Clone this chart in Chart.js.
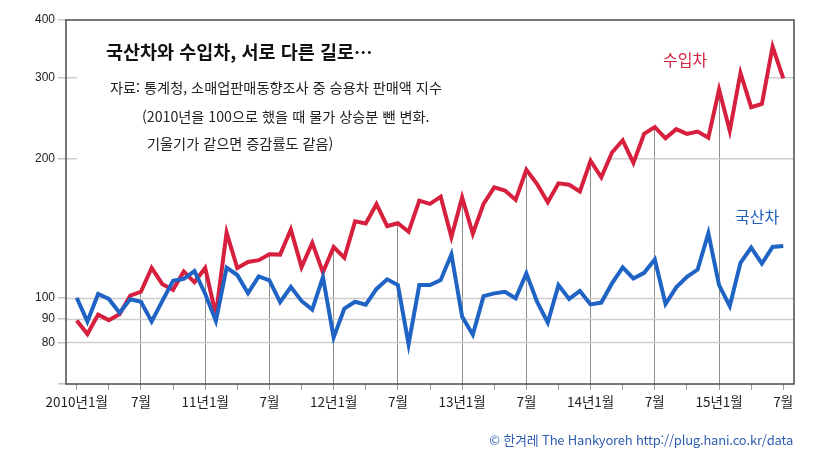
<!DOCTYPE html>
<html lang="ko">
<head>
<meta charset="utf-8">
<script src="https://cdn.jsdelivr.net/npm/chart.js@4"></script>
<style>
  html, body { margin: 0; padding: 0; background: #fff; }
  #wrap { position: relative; width: 830px; height: 450px; }
  #chart { position: absolute; left: 0; top: 0; }
  .note { position: absolute; font-family: "Noto Sans CJK KR", sans-serif; white-space: nowrap; line-height: 1; }
  .title { left: 106px; top: 42px; font-size: 18.5px; font-weight: bold; color: #111; }
  .sub { font-size: 14.2px; color: #222; }
  .s1 { left: 110px; top: 80px; }
  .s2 { left: 142px; top: 109px; }
  .s3 { left: 147px; top: 136px; }
  .lab { font-size: 16px; }
  .imp { left: 663px; top: 51px; color: #d6203e; }
  .dom { left: 735px; top: 208px; color: #1f5fb8; }
  .foot { right: 37px; top: 433px; font-size: 13px; letter-spacing: -0.2px; color: #2f5db0; }
</style>
</head>
<body>
<div id="wrap">
  <canvas id="chart" width="830" height="450"></canvas>
  <div class="note title">국산차와 수입차, 서로 다른 길로…</div>
  <div class="note sub s1">자료: 통계청, 소매업판매동향조사 중 승용차 판매액 지수</div>
  <div class="note sub s2">(2010년을 100으로 했을 때 물가 상승분 뺀 변화.</div>
  <div class="note sub s3">기울기가 같으면 증감률도 같음)</div>
  <div class="note lab imp">수입차</div>
  <div class="note lab dom">국산차</div>
  <div class="note foot">© 한겨레 The Hankyoreh http://plug.hani.co.kr/data</div>
</div>
<script>
// ============================================
//  DATA — 2010년 1월 ~ 2015년 7월, 월별 (2010 = 100)
// ============================================
const months = [];
for (let y = 2010; y <= 2015; y++) {
  for (let m = 1; m <= 12; m++) {
    if (y === 2015 && m > 7) break;
    months.push(y + '-' + m);
  }
}

// 수입차 (imported cars)
const imported = [
  89.2, 83.4, 91.9, 89.4, 92.1, 101, 103, 116, 107, 104, 114, 108,
  116, 91.8, 138.4, 116, 119.5, 120.6, 124.2, 124, 140.5, 116.5, 131.5, 113.5,
  128.8, 122.1, 146.4, 144.8, 159.5, 143, 145, 139, 162.3, 159.8, 165.6, 135.4,
  165, 137.6, 159.8, 173.5, 170.7, 163, 189.4, 176.4, 161, 177, 175.8, 170,
  198, 182.4, 206.4, 219.4, 196, 226.5, 234.3, 221.6, 231.9, 226.5, 229.2, 222.3,
  282.6, 230, 307, 258.8, 263, 350, 299
];

// 국산차 (domestic cars)
const domestic = [
  100, 88.8, 101.9, 99.4, 92.8, 99.2, 98, 88.8, 98.4, 108.8, 109.9, 114.2,
  102, 89, 116.2, 112, 102.3, 111.2, 109, 97.8, 105.5, 98.4, 94.2, 110.8,
  82, 94.7, 98, 96.6, 104.5, 109.6, 106.5, 79.3, 106.5, 106.5, 109.2, 124.2,
  91, 83.1, 100.8, 102.2, 103, 99.7, 112.9, 98, 88.3, 106.5, 99.4, 103.4,
  96.7, 97.6, 107.4, 116.3, 110.1, 113.2, 121, 96.9, 105.3, 111, 115.1, 138,
  106.5, 95.9, 119, 128.4, 118.6, 128.8, 129.5
];

// tick labels, every 6 months from 2010-01
const xTickLabels = ['2010년1월', '7월', '11년1월', '7월', '12년1월', '7월',
                     '13년1월', '7월', '14년1월', '7월', '15년1월', '7월'];
const yTicks = [65, 80, 90, 100, 200, 300, 400];
const yLabelled = [80, 90, 100, 200, 300, 400];
const baseGrid = [80, 90, 100]; // these grid lines stay visible above the fill

const RED = '#d6203e';
const BLUE = '#1f64c4';

// ============================================
//  PLUGIN — base grid lines + frame
// ============================================
const framePlugin = {
  id: 'frame',
  // runs after the filler has painted white above the red line
  beforeDatasetDraw(chart, args) {
    if (args.index !== 1) return;
    const { ctx, chartArea: a, scales: { y } } = chart;
    ctx.save();
    ctx.strokeStyle = '#cdcdcd';
    ctx.lineWidth = 1.5;
    baseGrid.forEach(v => {
      const py = Math.round(y.getPixelForValue(v)) + 0.5;
      ctx.beginPath();
      ctx.moveTo(a.left, py);
      ctx.lineTo(a.right, py);
      ctx.stroke();
    });
    ctx.restore();
  },
  afterDatasetsDraw(chart) {
    const { ctx, chartArea: a } = chart;
    ctx.save();
    ctx.strokeStyle = '#4a4a4a';
    ctx.lineWidth = 1.5;
    ctx.strokeRect(a.left, a.top, a.right - a.left, a.bottom - a.top);
    ctx.restore();
  }
};

// ============================================
//  CHART
// ============================================
const ctx = document.getElementById('chart').getContext('2d');
const lastIdx = months.length - 1;

new Chart(ctx, {
  type: 'line',
  data: {
    labels: months,
    datasets: [{
      label: '국산차',
      data: domestic.map((v, i) => ({ x: i, y: v })),
      borderColor: BLUE,
      borderWidth: 4,
      pointRadius: 0,
      tension: 0,
      fill: false
    }, {
      label: '수입차',
      data: imported.map((v, i) => ({ x: i, y: v })),
      borderColor: RED,
      backgroundColor: '#ffffff',
      borderWidth: 4,
      pointRadius: 0,
      tension: 0,
      fill: 'end'
    }]
  },
  options: {
    responsive: false,
    animation: false,
    layout: { padding: { top: 20, right: 36, left: 0, bottom: 0 } },
    plugins: {
      legend: { display: false },
      tooltip: { enabled: false }
    },
    scales: {
      x: {
        type: 'linear',
        min: -1,
        max: months.length,
        afterBuildTicks: (scale) => {
          const t = [];
          for (let i = 0; i < months.length; i += 3) t.push({ value: i });
          scale.ticks = t;
        },
        afterFit: (scale) => { scale.height = 66; },
        border: { display: false },
        grid: {
          color: (c) => {
            const v = c.tick ? c.tick.value : -1;
            return (v % 6 === 0 && v > 0 && v < lastIdx) ? '#8c8c8c' : 'transparent';
          },
          lineWidth: 1,
          drawTicks: true,
          tickLength: 6,
          tickColor: '#9a9a9a',
          tickWidth: 1
        },
        ticks: {
          autoSkip: false,
          maxRotation: 0,
          padding: 4,
          color: '#222',
          font: { family: '"Noto Sans CJK KR"', size: 13.5 },
          callback: (v) => v % 6 === 0 ? xTickLabels[v / 6] : ''
        }
      },
      y: {
        type: 'logarithmic',
        min: 65,
        max: 400,
        afterBuildTicks: (scale) => {
          scale.ticks = yTicks.map(v => ({ value: v }));
        },
        afterFit: (scale) => { scale.width = 66; },
        border: { display: false },
        grid: {
          color: (c) => (c.tick && (c.tick.value === 200 || c.tick.value === 300)) ? '#cdcdcd' : 'transparent',
          lineWidth: 1.5,
          drawTicks: true,
          tickLength: 8,
          tickColor: '#c4c4c4',
          tickWidth: 1.5
        },
        ticks: {
          padding: 3,
          color: '#222',
          font: { family: '"Liberation Sans", Arial, sans-serif', size: 12 },
          callback: (v) => yLabelled.includes(v) ? String(v) : ''
        }
      }
    }
  },
  plugins: [framePlugin]
});
</script>
</body>
</html>
